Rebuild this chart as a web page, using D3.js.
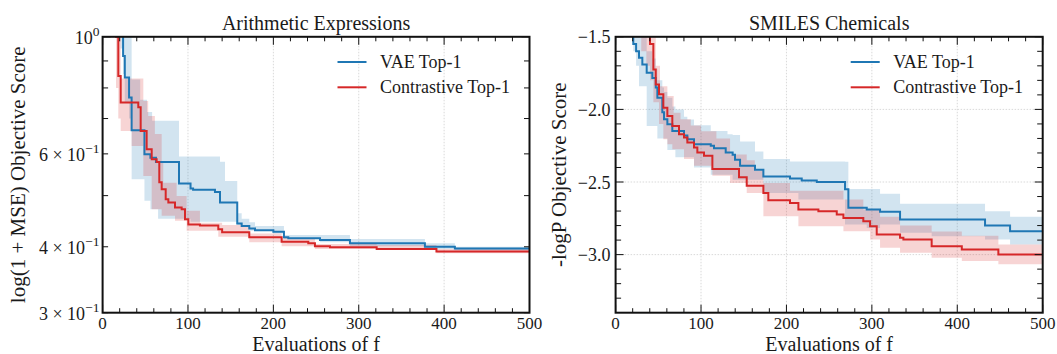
<!DOCTYPE html>
<html><head><meta charset="utf-8">
<script src="https://cdn.jsdelivr.net/npm/d3@7"></script>
<style>
body{margin:0;background:#fff}
svg{display:block}
text{font-family:"Liberation Serif","Times New Roman",serif;fill:#1a1a1a}
</style>
</head><body>
<svg id="c" width="1057" height="354"></svg>
<script>
// ---------------- DATA ----------------
const xTickValues = [0, 100, 200, 300, 400, 500];
const xTickLabels = ["0", "100", "200", "300", "400", "500"];

// Arithmetic Expressions (log scale)
const arithYTicks = [1, 0.6, 0.4, 0.3];
const arithYMant = ["", "6 × ", "4 × ", "3 × "];
const arithYExp = ["0", "−1", "−1", "−1"];
const arithYMinor = [0.3, 0.4, 0.5, 0.6, 0.7, 0.8, 0.9];

const arithVaeX    = [0, 21, 24, 26, 31, 34, 44, 49, 52, 56, 58, 62.5, 65, 89.5, 103, 106, 131.6, 137.5, 143.4, 157.7, 162.9, 171.8, 178.5, 200, 212.4, 217.5, 254.6, 289.7, 377.5, 412.6, 500];
const arithVaeMean = [1.5, 1.05, 0.92, 0.837, 0.767, 0.665, 0.665, 0.599, 0.599, 0.590, 0.590, 0.579, 0.579, 0.527, 0.516, 0.513, 0.508, 0.485, 0.485, 0.443, 0.438, 0.433, 0.430, 0.427, 0.417, 0.415, 0.412, 0.406, 0.400, 0.397, 0.397];
const arithVaeHi   = [1.8, 1.5, 1.3, 1.2, 1.2, 0.83, 0.76, 0.76, 0.72, 0.72, 0.693, 0.693, 0.693, 0.593, 0.593, 0.593, 0.593, 0.580, 0.533, 0.463, 0.452, 0.445, 0.438, 0.438, 0.421, 0.421, 0.421, 0.414, 0.406, 0.400, 0.400];
const arithVaeLo   = [1.2, 0.95, 0.85, 0.75, 0.70, 0.537, 0.537, 0.489, 0.489, 0.471, 0.471, 0.471, 0.452, 0.452, 0.446, 0.446, 0.446, 0.446, 0.446, 0.440, 0.440, 0.429, 0.429, 0.424, 0.414, 0.414, 0.408, 0.401, 0.396, 0.394, 0.394];

const arithConX    = [0, 15.7, 18.4, 21.2, 34, 41.8, 44.6, 47.7, 51.6, 53.4, 57.5, 61.2, 63.3, 66.4, 69.2, 71, 73.9, 77, 84.8, 86.7, 92.6, 96.5, 98.4, 100.4, 114, 135.5, 140, 171.8, 209.7, 240.9, 248.7, 266.3, 321, 391, 500];
const arithConMean = [1.5, 1.0, 0.843, 0.751, 0.751, 0.735, 0.663, 0.663, 0.612, 0.612, 0.586, 0.586, 0.579, 0.53, 0.514, 0.514, 0.492, 0.485, 0.475, 0.475, 0.471, 0.451, 0.451, 0.441, 0.439, 0.432, 0.426, 0.417, 0.409, 0.406, 0.401, 0.399, 0.396, 0.392, 0.392];
const arithConHi   = [1.8, 1.3, 1.1, 0.834, 0.834, 0.834, 0.834, 0.756, 0.756, 0.708, 0.708, 0.654, 0.654, 0.654, 0.578, 0.529, 0.529, 0.529, 0.529, 0.499, 0.499, 0.499, 0.468, 0.468, 0.444, 0.444, 0.440, 0.424, 0.415, 0.415, 0.405, 0.405, 0.403, 0.396, 0.396];
const arithConLo   = [1.2, 0.8, 0.7, 0.663, 0.621, 0.621, 0.621, 0.545, 0.545, 0.545, 0.471, 0.471, 0.471, 0.471, 0.458, 0.458, 0.458, 0.458, 0.448, 0.448, 0.448, 0.448, 0.429, 0.429, 0.429, 0.418, 0.418, 0.408, 0.401, 0.401, 0.396, 0.396, 0.396, 0.389, 0.389];

// SMILES Chemicals (linear)
const smilesYTicks = [-1.5, -2.0, -2.5, -3.0];
const smilesYLabels = ["−1.5", "−2.0", "−2.5", "−3.0"];
const smilesYMinor = [-1.6, -1.7, -1.8, -1.9, -2.1, -2.2, -2.3, -2.4, -2.6, -2.7, -2.8, -2.9, -3.1, -3.2, -3.3];

const smilesVaeX    = [0, 20.7, 24, 27.4, 31.3, 36.4, 43, 47, 48.9, 54.7, 56.7, 60.6, 66.4, 70, 80.1, 84, 91.8, 111.4, 115.2, 128.9, 131, 137, 139.8, 145.7, 163.2, 173, 204.2, 214, 217.9, 235.5, 268.6, 272.5, 294, 309.6, 333, 370, 405, 432.5, 461.8, 500];
const smilesVaeMean = [-1.0, -1.55, -1.6, -1.645, -1.69, -1.748, -1.783, -1.85, -1.92, -2.02, -2.068, -2.102, -2.148, -2.148, -2.18, -2.205, -2.24, -2.251, -2.267, -2.297, -2.297, -2.313, -2.347, -2.388, -2.416, -2.462, -2.475, -2.475, -2.489, -2.5, -2.55, -2.678, -2.69, -2.704, -2.759, -2.759, -2.759, -2.80, -2.839, -2.839];
const smilesVaeHi   = [-1.0, -1.2, -1.3, -1.4, -1.5, -1.6, -1.65, -1.72, -1.8, -1.85, -1.88, -1.92, -1.98, -2.0, -2.05, -2.07, -2.109, -2.148, -2.148, -2.148, -2.171, -2.176, -2.176, -2.221, -2.29, -2.342, -2.358, -2.358, -2.358, -2.358, -2.36, -2.548, -2.548, -2.58, -2.649, -2.649, -2.649, -2.702, -2.74, -2.74];
const smilesVaeLo   = [-1.45, -1.6, -1.7, -1.84, -1.84, -2.114, -2.114, -2.114, -2.2, -2.2, -2.2, -2.28, -2.28, -2.33, -2.33, -2.33, -2.40, -2.45, -2.45, -2.45, -2.45, -2.484, -2.484, -2.484, -2.484, -2.576, -2.576, -2.621, -2.621, -2.621, -2.793, -2.793, -2.816, -2.793, -2.85, -2.873, -2.873, -2.896, -2.93, -2.93];

const smilesConX    = [0, 30, 36, 40.3, 44.2, 47, 50.8, 52, 55.9, 60.6, 66.4, 68, 74.2, 76, 80.1, 84, 88, 91.8, 95.7, 100, 103.5, 113.3, 118, 134, 144.5, 153.5, 163, 173, 178.8, 204.2, 214, 237.4, 258.9, 266.7, 290, 297.9, 305.7, 309.6, 333, 336.9, 370, 405.3, 448.1, 500];
const smilesConMean = [-1.0, -1.0, -1.0, -1.55, -1.725, -1.828, -1.896, -1.896, -1.988, -2.045, -2.114, -2.114, -2.171, -2.171, -2.194, -2.228, -2.228, -2.262, -2.297, -2.297, -2.32, -2.411, -2.411, -2.411, -2.468, -2.525, -2.525, -2.576, -2.626, -2.644, -2.69, -2.702, -2.724, -2.747, -2.77, -2.805, -2.861, -2.861, -2.884, -2.896, -2.942, -2.964, -2.999, -2.999];
const smilesConHi   = [-1.0, -1.0, -1.0, -1.3, -1.3, -1.70, -1.70, -1.84, -1.84, -1.908, -1.908, -2.023, -2.023, -2.068, -2.068, -2.068, -2.11, -2.11, -2.11, -2.15, -2.15, -2.15, -2.20, -2.31, -2.31, -2.35, -2.42, -2.507, -2.507, -2.56, -2.56, -2.56, -2.56, -2.62, -2.69, -2.69, -2.69, -2.74, -2.80, -2.80, -2.84, -2.87, -2.93, -2.93];
const smilesConLo   = [-1.45, -1.6, -1.7, -1.8, -1.95, -1.95, -2.1, -2.1, -2.205, -2.24, -2.274, -2.274, -2.274, -2.274, -2.342, -2.342, -2.342, -2.388, -2.388, -2.388, -2.388, -2.457, -2.457, -2.507, -2.507, -2.576, -2.576, -2.736, -2.736, -2.736, -2.805, -2.805, -2.805, -2.839, -2.839, -2.896, -2.896, -2.953, -2.987, -2.987, -3.021, -3.044, -3.067, -3.067];

const seriesNames = ["VAE Top-1", "Contrastive Top-1"];
const seriesColors = ["#1f77b4", "#d62728"];

// ---------------- DRAW ----------------
const svg = d3.select("#c");
svg.append("rect").attr("width", 1057).attr("height", 354).attr("fill", "#fff");
const defs = svg.append("defs");
const FONT_TICK = 17, FONT_YTICK = 18, FONT_LABEL = 20, FONT_TITLE = 20, FONT_LEG = 18;

function drawPanel(o) {
  const g = svg.append("g");
  const x = d3.scaleLinear().domain([0, 500]).range([o.x0, o.x1]);
  const y = o.y;
  defs.append("clipPath").attr("id", "clip" + o.id)
    .append("rect").attr("x", o.x0).attr("y", o.y0).attr("width", o.x1 - o.x0).attr("height", o.y1 - o.y0);

  // grid
  const gridStyle = sel => sel.attr("stroke", "#cfcfcf").attr("stroke-width", 0.8).attr("stroke-dasharray", "1.5,1.5");
  g.selectAll("line.vg").data(xTickValues.slice(1, -1)).join("line").attr("class", "vg")
    .attr("x1", d => x(d)).attr("x2", d => x(d)).attr("y1", o.y0).attr("y2", o.y1).call(gridStyle);
  g.selectAll("line.hg").data(o.hGrid).join("line").attr("class", "hg")
    .attr("x1", o.x0).attr("x2", o.x1).attr("y1", d => y(d)).attr("y2", d => y(d)).call(gridStyle);

  // series
  const plot = g.append("g").attr("clip-path", `url(#clip${o.id})`);
  o.series.forEach((s, k) => {
    const pts = s.xs.map((xv, i) => ({ x: xv, m: s.mean[i], lo: s.lo[i], hi: s.hi[i] }));
    plot.append("path").datum(pts)
      .attr("d", d3.area().curve(d3.curveStepAfter).x(d => x(d.x)).y0(d => y(d.lo)).y1(d => y(d.hi)))
      .attr("fill", seriesColors[k]).attr("fill-opacity", 0.2).attr("stroke", "none");
  });
  o.series.forEach((s, k) => {
    const pts = s.xs.map((xv, i) => ({ x: xv, m: s.mean[i] }));
    plot.append("path").datum(pts)
      .attr("d", d3.line().curve(d3.curveStepAfter).x(d => x(d.x)).y(d => y(d.m)))
      .attr("fill", "none").attr("stroke", seriesColors[k]).attr("stroke-width", 2);
  });

  // ticks
  const tk = g.append("g").attr("stroke", "#111").attr("stroke-width", 1);
  const xMinor = d3.range(0, 501, 20).filter(v => v % 100 !== 0);
  [[xTickValues, 8], [xMinor, 4.5]].forEach(([vals, len]) => {
    vals.forEach(v => {
      tk.append("line").attr("x1", x(v)).attr("x2", x(v)).attr("y1", o.y1).attr("y2", o.y1 - len);
      tk.append("line").attr("x1", x(v)).attr("x2", x(v)).attr("y1", o.y0).attr("y2", o.y0 + len);
    });
  });
  [[o.yMajor, 8], [o.yMinor, 5.5]].forEach(([vals, len]) => {
    vals.forEach(v => {
      tk.append("line").attr("y1", y(v)).attr("y2", y(v)).attr("x1", o.x0).attr("x2", o.x0 + len);
      tk.append("line").attr("y1", y(v)).attr("y2", y(v)).attr("x1", o.x1).attr("x2", o.x1 - len);
    });
  });

  // frame
  g.append("rect").attr("x", o.x0).attr("y", o.y0).attr("width", o.x1 - o.x0).attr("height", o.y1 - o.y0)
    .attr("fill", "none").attr("stroke", "#111").attr("stroke-width", 2);

  // x tick labels
  g.selectAll("text.xt").data(xTickValues).join("text").attr("class", "xt")
    .attr("x", d => x(d)).attr("y", o.y1 + 16).attr("text-anchor", "middle")
    .attr("font-size", FONT_TICK).text((d, i) => xTickLabels[i]);

  // y tick labels
  o.yLabels(g, y);

  // titles & labels
  g.append("text").attr("x", (o.x0 + o.x1) / 2).attr("y", 30).attr("text-anchor", "middle")
    .attr("font-size", FONT_TITLE).text(o.title);
  g.append("text").attr("x", (o.x0 + o.x1) / 2).attr("y", 350.5).attr("text-anchor", "middle")
    .attr("font-size", FONT_LABEL).text("Evaluations of f");
  g.append("text").attr("transform", `translate(${o.ylabX},${(o.y0 + o.y1) / 2}) rotate(-90)`)
    .attr("text-anchor", "middle").attr("font-size", 21).text(o.ylabel);

  // legend
  const lx = o.x1 - 192;
  seriesNames.forEach((nm, k) => {
    const ly = 62 + k * 25.3;
    g.append("line").attr("x1", lx).attr("x2", lx + 29).attr("y1", ly).attr("y2", ly)
      .attr("stroke", seriesColors[k]).attr("stroke-width", 2);
    g.append("text").attr("x", lx + 42.5).attr("y", ly + 5.5).attr("font-size", FONT_LEG).text(nm);
  });
}

// Left panel
const yArith = d3.scaleLog().domain([0.3, 1]).range([312.7, 36.8]);
drawPanel({
  id: "a", x0: 102.6, x1: 529.5, y0: 36.8, y1: 312.7, y: yArith,
  hGrid: [], yMajor: [1], yMinor: arithYMinor,
  series: [
    { xs: arithVaeX, mean: arithVaeMean, lo: arithVaeLo, hi: arithVaeHi },
    { xs: arithConX, mean: arithConMean, lo: arithConLo, hi: arithConHi }
  ],
  title: "Arithmetic Expressions",
  ylabel: "log(1 + MSE) Objective Score", ylabX: 25,
  yLabels: (g, y) => {
    arithYTicks.forEach((v, i) => {
      const t = g.append("text").attr("x", 99.5).attr("y", y(v) + 7)
        .attr("text-anchor", "end").attr("font-size", FONT_YTICK);
      t.append("tspan").text(arithYMant[i] + "10");
      t.append("tspan").attr("dy", -7.5).attr("font-size", 13.5).text(arithYExp[i]);
    });
  }
});

// Right panel
const ySmiles = d3.scaleLinear().domain([-3.4, -1.5]).range([312.7, 36.8]);
drawPanel({
  id: "b", x0: 615.6, x1: 1042.7, y0: 36.8, y1: 312.7, y: ySmiles,
  hGrid: smilesYTicks.slice(1), yMajor: smilesYTicks, yMinor: smilesYMinor,
  series: [
    { xs: smilesVaeX, mean: smilesVaeMean, lo: smilesVaeLo, hi: smilesVaeHi },
    { xs: smilesConX, mean: smilesConMean, lo: smilesConLo, hi: smilesConHi }
  ],
  title: "SMILES Chemicals",
  ylabel: "-logP Objective Score", ylabX: 566,
  yLabels: (g, y) => {
    smilesYTicks.forEach((v, i) => {
      g.append("text").attr("x", 610.5).attr("y", y(v) + 6.5)
        .attr("text-anchor", "end").attr("font-size", FONT_YTICK).text(smilesYLabels[i]);
    });
  }
});
</script>
</body></html>
